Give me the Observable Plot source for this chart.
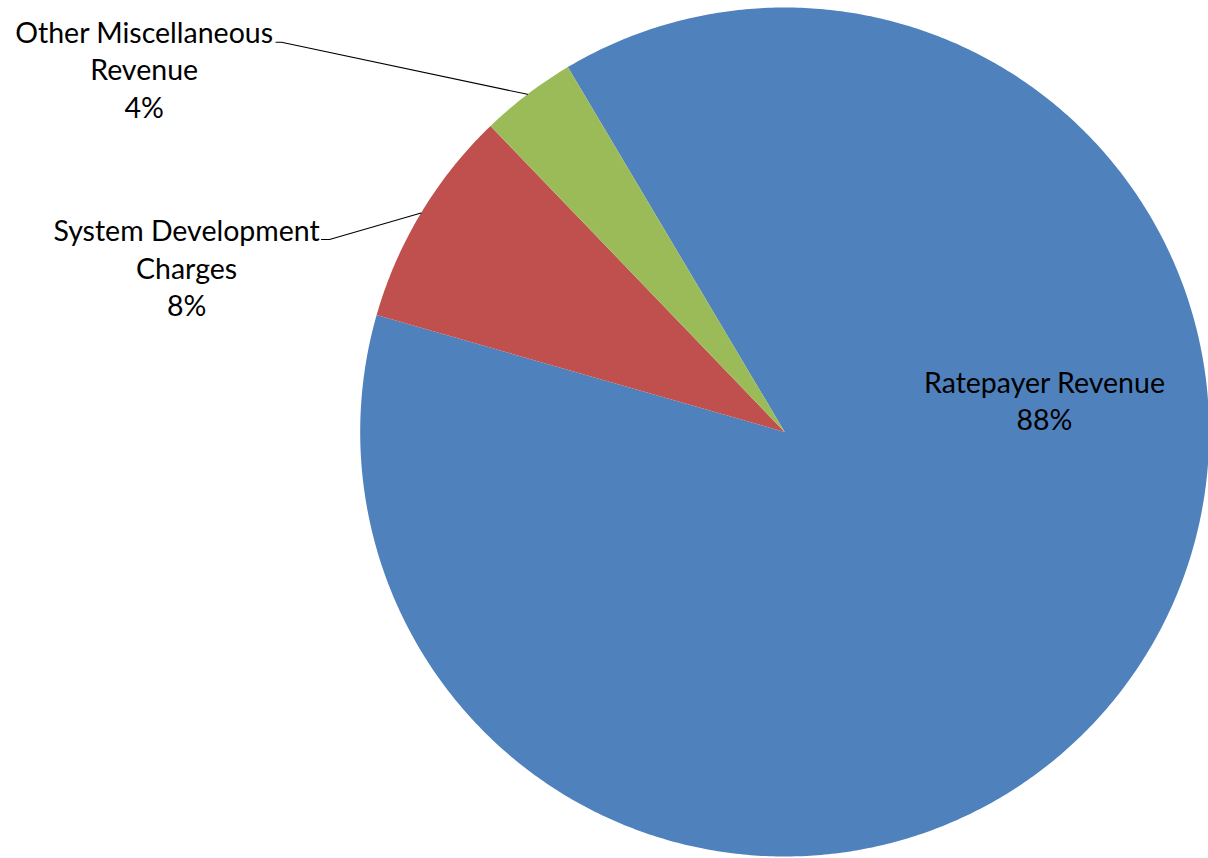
<!DOCTYPE html>
<html><head><meta charset="utf-8">
<script src="https://cdn.jsdelivr.net/npm/d3@7"></script>
<script src="https://cdn.jsdelivr.net/npm/@observablehq/plot@0.6"></script>
<style>html,body{margin:0;padding:0;background:#fff;overflow:hidden}</style>
</head><body><div id="chart"></div>
<script>
// ---- data ----
const categories = ["Ratepayer Revenue", "System Development Charges", "Other Miscellaneous Revenue"];
const shares = [87.98, 8.37, 3.65];
const percentLabels = ["88%", "8%", "4%"];
const labelLines = [["Ratepayer Revenue"], ["System Development", "Charges"], ["Other Miscellaneous", "Revenue"]];
const colors = ["#4F81BD", "#C0504D", "#9BBB59"];

// ---- layout (chart styling, unit-circle coordinates) ----
const rotationDeg = 329.27;
const fontSize = 28.5;
const lineHeightPx = 37.5;
const labelLayout = [
  {x: 0.612, y: 0.076, leader: null},
  {x: -1.409, y: 0.3895, leader: {elbowX: -1.0723, endX: -1.0912, y: 0.4535}},
  {x: -1.509, y: 0.8564, leader: {elbowX: -1.1854, endX: -1.1984, y: 0.9183}}
];

const rot = rotationDeg * Math.PI / 180;
const arcs = d3.pie().sort(null).startAngle(rot).endAngle(rot + 2 * Math.PI)(shares);

const slicePts = [];
arcs.forEach((a, i) => {
  slicePts.push({name: categories[i], x: 0, y: 0});
  const n = Math.max(2, Math.ceil((a.endAngle - a.startAngle) / (Math.PI / 360)));
  for (let k = 0; k <= n; k++) {
    const t = a.startAngle + (a.endAngle - a.startAngle) * k / n;
    slicePts.push({name: categories[i], x: Math.sin(t), y: Math.cos(t)});
  }
});

const leaderPts = [];
arcs.forEach((a, i) => {
  const L = labelLayout[i].leader;
  if (!L) return;
  const m = (a.startAngle + a.endAngle) / 2;
  leaderPts.push({name: categories[i], x: Math.sin(m), y: Math.cos(m)});
  leaderPts.push({name: categories[i], x: L.elbowX, y: L.y});
  leaderPts.push({name: categories[i], x: L.endX, y: L.y});
});

const labels = categories.map((c, i) => ({
  name: c,
  text: [...labelLines[i], percentLabels[i]].join("\n"),
  x: labelLayout[i].x,
  y: labelLayout[i].y
}));

const cx = 784.2, cy = 431.5, R = 424.5;
const chart = Plot.plot({
  width: 1208,
  height: 858,
  margin: 0,
  style: {background: "#fff", fontFamily: "Lato, sans-serif"},
  x: {domain: [-1, 1], range: [cx - R, cx + R], axis: null},
  y: {domain: [-1, 1], range: [cy + R, cy - R], axis: null},
  color: {domain: categories, range: colors},
  marks: [
    Plot.line(slicePts, {x: "x", y: "y", z: "name", fill: "name", stroke: "none", curve: "linear-closed"}),
    Plot.line(leaderPts, {x: "x", y: "y", z: "name", stroke: "#000", strokeWidth: 1.1}),
    Plot.text(labels, {x: "x", y: "y", text: "text", textAnchor: "middle", lineAnchor: "middle",
      lineHeight: lineHeightPx / fontSize, fontSize: fontSize, fill: "#000", fontFamily: "Lato, sans-serif"})
  ]
});
document.getElementById("chart").appendChild(chart);
</script>
</body></html>
